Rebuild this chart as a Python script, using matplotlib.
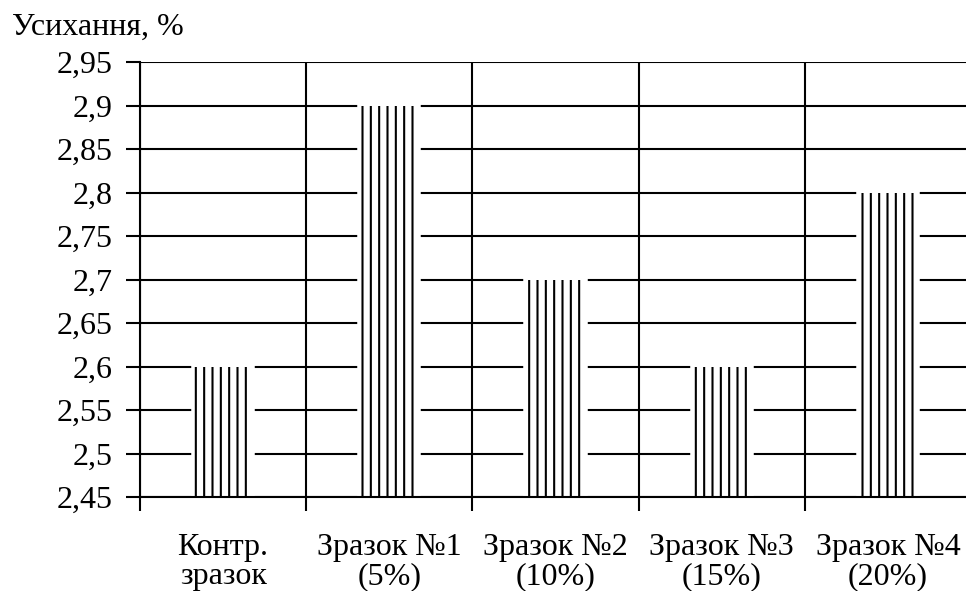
import matplotlib
matplotlib.use("Agg")
import matplotlib.pyplot as plt
import numpy as np
from matplotlib.ticker import FixedLocator, FuncFormatter

categories = ["Контр.\nзразок", "Зразок №1\n(5%)", "Зразок №2\n(10%)", "Зразок №3\n(15%)", "Зразок №4\n(20%)"]
values = [2.6, 2.9, 2.7, 2.6, 2.8]
yticks = [2.45, 2.5, 2.55, 2.6, 2.65, 2.7, 2.75, 2.8, 2.85, 2.9, 2.95]
ylabel = "Усихання, %"

plt.rcParams['font.family'] = ['Liberation Serif', 'DejaVu Serif']
plt.rcParams['hatch.linewidth'] = 1.5

W, H = 966, 591
fig = plt.figure(figsize=(W / 100, H / 100), dpi=100)
left, right, top, bottom = 140, 971, 62, 497
ax = fig.add_axes([left / W, 1 - bottom / H, (right - left) / W, (bottom - top) / H])

x = np.arange(len(categories))
ax.set_xlim(-0.5, len(categories) - 0.5)
ax.set_ylim(2.45, 2.95)

lw = 1.5
# grid
for yv in yticks:
    ax.axhline(yv, color='black', lw=lw, zorder=1)
for b in np.arange(-0.5, len(categories), 1.0):
    ax.axvline(b, color='black', lw=lw, zorder=1)

bw = 0.35
ax.bar(x, np.array(values) - 2.45, bottom=2.45, width=bw, color='white', edgecolor='white', linewidth=4, zorder=2)
ax.bar(x, np.array(values) - 2.45, bottom=2.45, width=bw, facecolor='none', edgecolor='black', linewidth=0, hatch='||', zorder=3)

for s in ['top', 'right']:
    ax.spines[s].set_visible(False)
ax.spines['left'].set_linewidth(lw)
ax.spines['bottom'].set_linewidth(lw)
ax.spines['left'].set_zorder(4)
ax.spines['bottom'].set_zorder(4)

ax.set_yticks(yticks)
ax.yaxis.set_major_formatter(FuncFormatter(lambda v, p: f"{v:g}".replace('.', ',')))
ax.tick_params(axis='y', length=10, width=lw, labelsize=23, pad=10, direction='out')

ax.set_xticks(x)
ax.set_xticklabels(categories, fontsize=23, linespacing=1.0)
ax.xaxis.set_minor_locator(FixedLocator(np.arange(-0.5, len(categories), 1.0)))
ax.tick_params(axis='x', which='major', length=0, pad=26)
ax.tick_params(axis='x', which='minor', length=10, width=lw, direction='out')

fig.text(12 / W, 1 - 27 / H, ylabel, fontsize=23, ha='left', va='center')

fig.savefig("out.png", dpi=100, facecolor='white')
